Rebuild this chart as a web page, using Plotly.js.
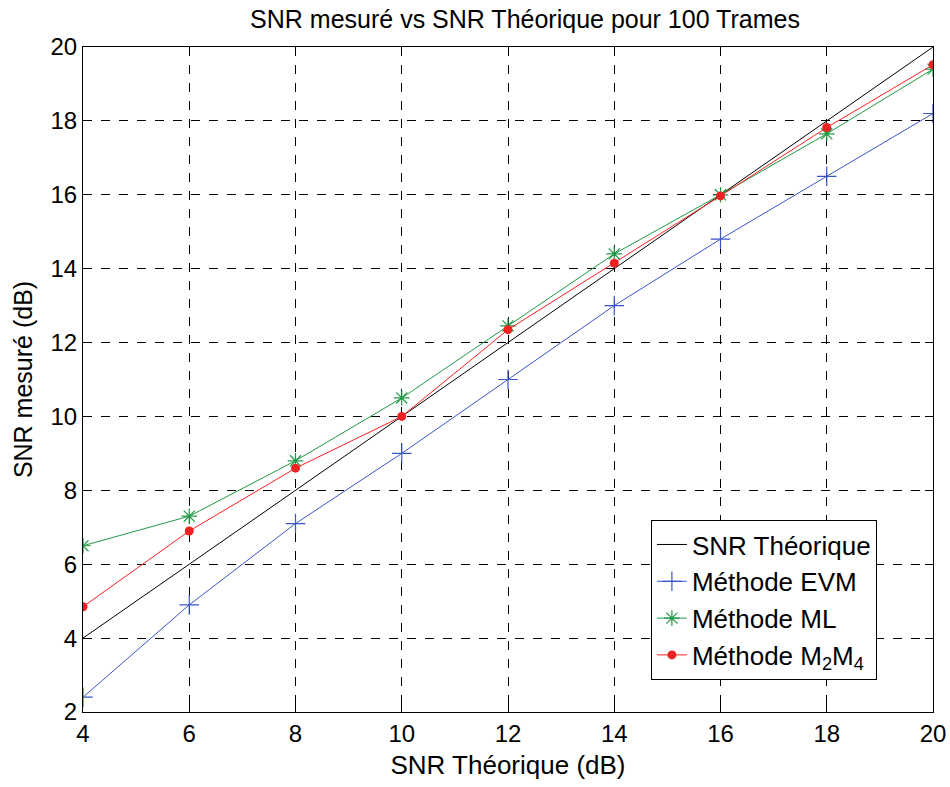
<!DOCTYPE html>
<html>
<head>
<meta charset="utf-8">
<script src="https://cdn.plot.ly/plotly-3.0.1.min.js"></script>
<style>html,body{margin:0;padding:0;background:#fff;}#chart{width:950px;height:787px;}</style>
</head>
<body>
<div id="chart"></div>
<script>
const snrTheo = [4, 6, 8, 10, 12, 14, 16, 18, 20];
const theoretical = [4, 6, 8, 10, 12, 14, 16, 18, 20];
const evm = [2.4, 4.9, 7.1, 9.0, 11.0, 13.0, 14.8, 16.5, 18.2];
const ml = [6.5, 7.3, 8.8, 10.5, 12.45, 14.4, 16.0, 17.65, 19.4];
const m2m4 = [4.85, 6.9, 8.6, 10.0, 12.35, 14.15, 15.97, 17.82, 19.52];
const xTicks = [4, 6, 8, 10, 12, 14, 16, 18, 20];
const yTicks = [2, 4, 6, 8, 10, 12, 14, 16, 18, 20];
const names = ['SNR Théorique', 'Méthode EVM', 'Méthode ML', 'Méthode M<sub>2</sub>M<sub>4</sub>'];

const traces = [
  {x: snrTheo, y: theoretical, name: names[0], mode: 'lines', line: {color: '#000000', width: 1}},
  {x: snrTheo, y: evm, name: names[1], mode: 'lines+markers', line: {color: '#3a55c8', width: 1},
   marker: {symbol: 'cross-thin-open', size: 14, line: {color: '#3a55c8', width: 1.2}}},
  {x: snrTheo, y: ml, name: names[2], mode: 'lines+markers', line: {color: '#1f9a45', width: 1},
   marker: {symbol: 'asterisk-open', size: 13, line: {color: '#1f9a45', width: 1.2}}},
  {x: snrTheo, y: m2m4, name: names[3], mode: 'lines+markers', line: {color: '#ff2020', width: 1},
   marker: {symbol: 'circle', size: 9, color: '#ee2222'}}
];

const font = 'Liberation Sans, Arial, sans-serif';
const layout = {
  width: 950, height: 787,
  margin: {l: 83, r: 17, t: 47, b: 75},
  paper_bgcolor: '#ffffff', plot_bgcolor: '#ffffff',
  font: {family: font, color: '#000', size: 25},
  title: {text: 'SNR mesuré vs SNR Théorique pour 100 Trames', font: {family: font, size: 25, color: '#000'},
          xref: 'paper', x: 0.52, xanchor: 'center', y: 0.976, yanchor: 'middle'},
  xaxis: {
    range: [4, 20], tickvals: xTicks, ticktext: xTicks.map(String),
    showgrid: true, gridcolor: '#000', griddash: 'dash', gridwidth: 1,
    zeroline: false, showline: true, linecolor: '#000', linewidth: 1, mirror: 'ticks',
    ticks: 'inside', ticklen: 8, tickcolor: '#000',
    tickfont: {family: font, size: 24, color: '#000'},
    title: {text: 'SNR Théorique (dB)', font: {family: font, size: 26, color: '#000'}, standoff: 10}
  },
  yaxis: {
    range: [2, 20], tickvals: yTicks, ticktext: yTicks.map(String),
    showgrid: true, gridcolor: '#000', griddash: 'dash', gridwidth: 1,
    zeroline: false, showline: true, linecolor: '#000', linewidth: 1, mirror: 'ticks',
    ticks: 'inside', ticklen: 8, tickcolor: '#000',
    tickfont: {family: font, size: 24, color: '#000'},
    title: {text: 'SNR mesuré (dB)', font: {family: font, size: 25, color: '#000'}, standoff: 10}
  },
  showlegend: true,
  legend: {
    x: 0.934, y: 0.048, xanchor: 'right', yanchor: 'bottom',
    bgcolor: '#ffffff', bordercolor: '#000', borderwidth: 1,
    font: {family: font, size: 26, color: '#000'},
    tracegroupgap: 0
  }
};

Plotly.newPlot('chart', traces, layout, {displayModeBar: false, staticPlot: true});
</script>
</body>
</html>
